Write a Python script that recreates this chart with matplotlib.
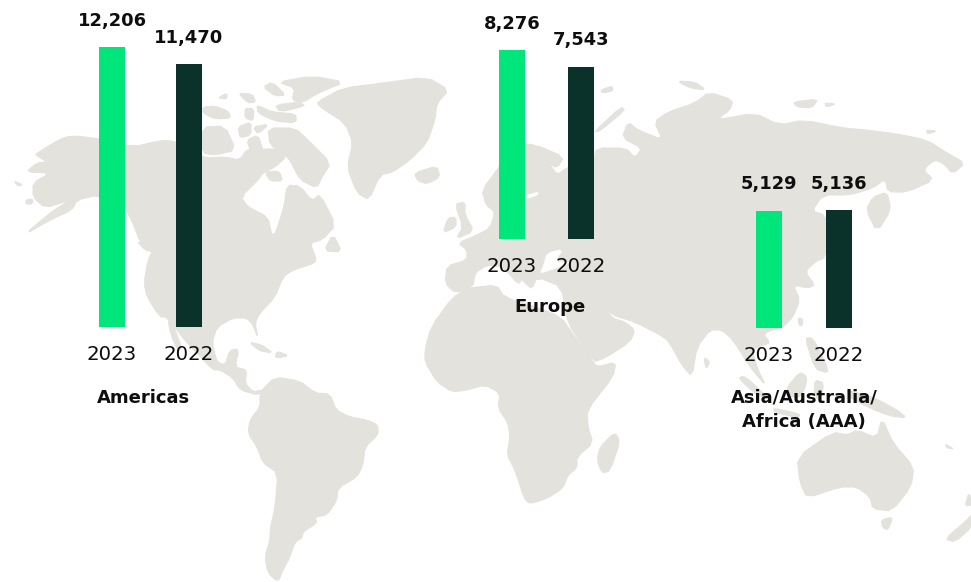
import matplotlib
matplotlib.use("Agg")
import matplotlib.pyplot as plt
from matplotlib.patches import Polygon

# ---------- data ----------
years = ["2023", "2022"]
americas = [12206, 11470]
europe = [8276, 7543]
aaa = [5129, 5136]
region_names = ["Americas", "Europe", "Asia/Australia/\nAfrica (AAA)"]

GREEN = "#00E67A"
DARK = "#0A312A"
LAND = "#E3E2DD"
INK = "#0E0E0E"
FONT = "DejaVu Sans"
W, H = 971, 582

# ---------- decorative world map outlines (pixel space) ----------
land = [
 # North + Central America
 [(36,154),(50,145),(65,137),(77,136),(100,139),(133,147),(163,140),(177,142),(203,158),(225,157),(240,160),(247,149),(258,152),(262,149),(282,149),(286,157),(275,167),(263,173),(258,180),(241,197),(248,207),(268,217),(272,236),(276,232),(284,207),(287,185),(300,186),(312,201),(320,194),(336,225),(322,240),(310,243),(316,258),(315,263),(293,270),(283,277),(275,297),(260,313),(255,323),(258,338),(253,325),(247,318),(233,318),(217,327),(212,343),(217,362),(225,365),(230,350),(239,349),(235,367),(247,370),(245,383),(253,392),(262,390),(258,395),(240,390),(233,378),(220,370),(213,370),(197,353),(187,343),(167,317),(160,317),(147,297),(144,283),(148,260),(153,250),(140,242),(133,223),(125,208),(98,195),(77,200),(72,210),(50,220),(24,235),(50,213),(70,200),(45,208),(33,197),(33,183),(50,173),(26,172),(37,163),(47,162),(36,155)],
 [(168,320),(172,322),(182,348),(178,351),(171,335)],
 # Arctic Canada
 [(268,128),(295,128),(308,140),(331,163),(322,177),(317,188),(300,180),(290,160),(282,152),(270,145)],
 [(278,82),(312,76),(345,82),(318,93),(302,103),(292,100),(295,88)],
 [(263,87),(272,82),(286,95),(275,96)],
 [(203,107),(215,106),(228,111),(231,118),(215,119),(203,113)],
 [(218,98),(227,93),(227,99)],
 [(238,93),(252,94),(256,102),(248,103)],
 [(245,108),(254,109),(253,121),(245,118)],
 [(257,105),(272,112),(296,114),(296,123),(275,121),(258,113)],
 [(275,105),(300,102),(305,106),(280,112)],
 [(202,127),(225,126),(236,150),(215,155),(202,153)],
 [(238,127),(251,122),(251,135),(240,138)],
 [(253,127),(269,124),(258,134)],
 [(247,140),(258,135),(263,150),(262,158),(250,150)],
 [(265,172),(279,171),(283,181),(270,181)],
 [(324,251),(333,234),(342,252)],
 [(137,241),(150,246),(154,252),(145,250)],
 [(14,181),(23,185),(18,186)],
 [(26,200),(33,199),(32,204),(26,204)],
 # Caribbean
 [(249,342),(262,345),(273,353),(260,351)],
 [(277,351),(289,356),(275,358)],
 # Greenland, Iceland
 [(317,102),(343,88),(383,83),(427,77),(449,90),(437,103),(435,120),(427,143),(410,160),(393,172),(380,175),(369,200),(357,193),(347,167),(353,143),(345,123),(320,107)],
 [(414,173),(437,166),(440,177),(427,184),(418,181)],
 # South America
 [(261,391),(275,377),(300,381),(315,393),(330,394),(336,410),(350,417),(367,420),(378,425),(378,435),(365,447),(363,465),(357,477),(338,488),(337,500),(327,515),(315,517),(317,523),(303,532),(302,538),(295,542),(290,557),(283,570),(278,582),(268,573),(265,557),(270,540),(270,530),(275,507),(278,473),(263,463),(257,447),(248,433),(250,420),(260,407),(260,395)],
 # Africa
 [(425,350),(431,327),(452,298),(468,288),(497,285),(504,297),(536,307),(561,317),(575,337),(592,360),(597,367),(616,362),(613,377),(587,410),(588,427),(593,443),(577,457),(577,468),(568,475),(563,488),(548,498),(530,504),(524,498),(515,470),(507,455),(510,437),(508,423),(498,408),(500,393),(485,385),(467,390),(452,392),(437,382),(425,362)],
 [(600,447),(615,432),(620,442),(610,471),(602,473),(597,460)],
 # Eurasia
 [(447,266),(445,283),(455,293),(473,287),(475,273),(487,265),(503,267),(518,284),(522,280),(512,268),(525,283),(532,289),(537,277),(562,287),(566,320),(593,362),(605,358),(630,342),(635,330),(625,322),(612,318),(603,305),(612,315),(635,322),(666,338),(673,349),(682,365),(692,377),(697,347),(710,330),(722,330),(733,340),(750,367),(766,386),(758,370),(752,350),(763,345),(770,343),(763,333),(783,327),(793,317),(800,300),(793,285),(808,288),(815,285),(805,272),(815,262),(826,257),(827,230),(825,215),(812,211),(823,195),(850,195),(873,188),(885,179),(888,192),(907,192),(934,180),(923,170),(934,160),(943,163),(953,174),(965,163),(947,153),(927,140),(897,134),(867,130),(843,128),(804,120),(779,125),(755,113),(716,120),(730,110),(733,100),(709,92),(695,103),(668,112),(654,122),(663,140),(638,130),(628,122),(622,138),(642,148),(635,158),(626,148),(596,148),(594,162),(568,167),(557,175),(549,163),(557,168),(564,157),(536,145),(515,143),(497,170),(482,190),(486,205),(495,212),(490,228),(477,235),(458,243),(467,250),(467,260)],
 # Islands of Europe and the north
 [(455,204),(465,202),(465,215),(474,231),(456,239),(463,227)],
 [(443,233),(448,218),(456,217),(456,227)],
 [(594,132),(621,107),(625,110),(600,131)],
 [(677,81),(695,82),(706,90),(690,88)],
 [(793,102),(818,99),(812,108),(797,107)],
 [(601,90),(612,86),(613,91),(602,93)],
 [(825,103),(836,104),(826,107)],
 [(926,130),(937,131),(928,134)],
 # Japan, East and Southeast Asia
 [(866,210),(873,197),(887,192),(891,210),(877,232)],
 [(798,318),(803,319),(802,326),(799,325)],
 [(738,378),(745,376),(766,396),(758,396)],
 [(774,408),(800,414),(798,418),(774,412)],
 [(787,387),(800,372),(807,377),(805,388),(800,398),(788,396)],
 [(815,380),(824,383),(820,401),(814,395)],
 [(805,338),(813,338),(826,364),(828,373),(815,369)],
 [(704,357),(710,362),(706,369)],
 [(847,390),(873,397),(897,410),(907,418),(890,416),(870,408),(850,398)],
 # Australia, New Zealand
 [(797,457),(833,432),(847,435),(857,430),(877,438),(882,418),(893,443),(914,467),(911,487),(892,511),(873,509),(870,497),(857,487),(840,487),(807,498),(800,483)],
 [(881,520),(893,517),(888,530),(883,528)],
 [(945,444),(954,449),(947,448)],
 [(945,539),(967,520),(972,514),(972,527),(955,542)],
 [(969,492),(972,505),(965,506)],
 [(275,537),(282,536),(277,541)],
]
water = [
 [(540,273),(543,267),(547,253),(563,249),(555,262),(572,262),(545,272)],
 [(524,196),(538,192),(538,195),(526,199)],
]


def smooth(pts, rounds=1):
    """Corner-cutting so the hand-traced coastlines do not look angular."""
    for _ in range(rounds):
        out = []
        n = len(pts)
        for i in range(n):
            (x0, y0), (x1, y1) = pts[i], pts[(i + 1) % n]
            out.append((0.8 * x0 + 0.2 * x1, 0.8 * y0 + 0.2 * y1))
            out.append((0.2 * x0 + 0.8 * x1, 0.2 * y0 + 0.8 * y1))
        pts = out
    return pts


fig = plt.figure(figsize=(W / 100, H / 100), dpi=100, facecolor="white")

bg = fig.add_axes([0, 0, 1, 1])
bg.set_xlim(0, W)
bg.set_ylim(H, 0)
bg.axis("off")
for pts in land:
    bg.add_patch(Polygon(smooth(pts), closed=True, fc=LAND, ec=LAND, lw=0.8, joinstyle="round"))
for pts in water:
    bg.add_patch(Polygon(smooth(pts), closed=True, fc="white", ec="white", lw=0.4))


def panel(values, x0, x1, base_px, px_per_unit, bar_w=26.5):
    """Two bars with shared scale, baseline at base_px, bar centres at x0, x1."""
    d = x1 - x0
    left = x0 - bar_w / 2
    width = d + bar_w
    top_val = base_px / px_per_unit
    ax = fig.add_axes([left / W, 1 - base_px / H, width / W, base_px / H])
    ax.patch.set_alpha(0)
    ax.set_xlim(-bar_w / 2 / d, 1 + bar_w / 2 / d)
    ax.set_ylim(0, top_val)
    ax.bar([0, 1], values, width=bar_w / d, color=[GREEN, DARK])
    for s in ax.spines.values():
        s.set_visible(False)
    ax.set_yticks([])
    ax.set_xticks([0, 1], years, fontfamily=FONT, fontsize=14.2, color=INK)
    ax.tick_params(axis="x", length=0, pad=13)
    for i, v in enumerate(values):
        ax.annotate(f"{v:,}", (i, v), xytext=(0, 15.5), textcoords="offset points",
                    ha="center", va="baseline", fontfamily=FONT, fontweight="bold",
                    fontsize=12.9, color=INK, annotation_clip=False)
    return ax


panel(americas, 112, 189, 327, 0.0229)
panel(europe, 512, 581, 239, 0.0228)
panel(aaa, 769, 839, 328, 0.0229)

title_kw = dict(ha="center", va="center", fontfamily=FONT, fontweight="bold",
                fontsize=13, color=INK, linespacing=1.45)
for name, (tx, ty) in zip(region_names, [(143, 398), (550, 307), (804, 410)]):
    fig.text(tx / W, 1 - ty / H, name, **title_kw)

fig.savefig("out.png", dpi=100)
